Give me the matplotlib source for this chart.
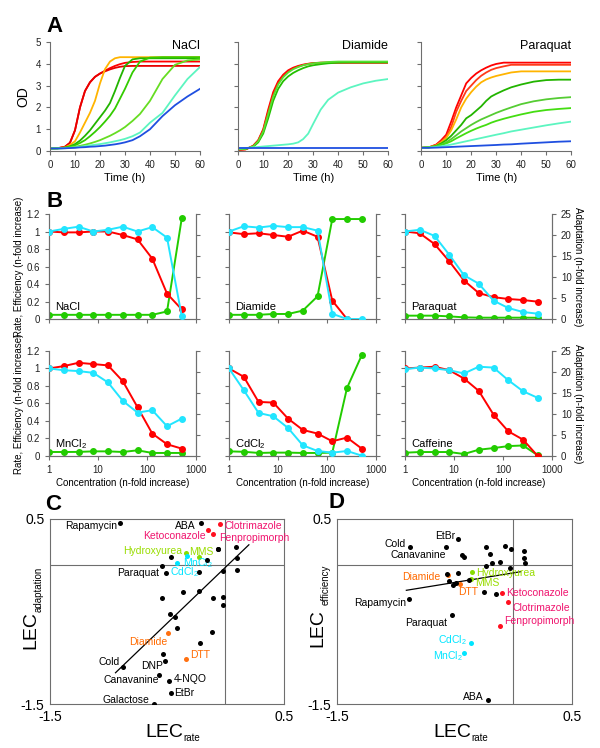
import numpy as np
import matplotlib
matplotlib.use('Agg')
import matplotlib.pyplot as plt

plt.rcParams['font.family'] = ['Liberation Sans', 'DejaVu Sans']
plt.rcParams['mathtext.fontset'] = 'custom'
plt.rcParams['mathtext.rm'] = 'Liberation Sans'
plt.rcParams['mathtext.it'] = 'Liberation Sans:italic'

GREY = '#6e6e6e'
W_PX, H_PX = 600, 748

# ---- Panel A: growth curves (OD over time) ----
time_h = [0, 3, 6, 8, 10, 12, 14, 16, 18, 20, 22, 24, 26, 28, 30, 33, 36, 40, 45, 50, 55, 60]

nacl_od = [
    [0.12, 0.13, 0.2, 0.38, 0.95, 2.0, 2.75, 3.15, 3.4, 3.55, 3.68, 3.8, 3.9, 3.98, 4.04, 4.08, 4.1, 4.1, 4.1, 4.1, 4.1, 4.1],
    [0.12, 0.13, 0.2, 0.38, 0.95, 2.0, 2.75, 3.15, 3.4, 3.55, 3.65, 3.74, 3.81, 3.86, 3.89, 3.9, 3.9, 3.9, 3.9, 3.9, 3.9, 3.9],
    [0.12, 0.13, 0.17, 0.28, 0.45, 0.85, 1.3, 1.75, 2.3, 3.1, 3.75, 4.1, 4.25, 4.3, 4.3, 4.3, 4.3, 4.3, 4.3, 4.3, 4.3, 4.3],
    [0.12, 0.13, 0.16, 0.22, 0.32, 0.48, 0.7, 0.95, 1.25, 1.55, 1.85, 2.2, 2.75, 3.35, 3.9, 4.2, 4.25, 4.25, 4.25, 4.25, 4.25, 4.25],
    [0.12, 0.13, 0.15, 0.2, 0.27, 0.37, 0.5, 0.68, 0.88, 1.1, 1.35, 1.62, 1.95, 2.4, 2.85, 3.6, 4.1, 4.28, 4.3, 4.3, 4.3, 4.3],
    [0.12, 0.12, 0.14, 0.17, 0.2, 0.24, 0.29, 0.35, 0.42, 0.5, 0.6, 0.7, 0.82, 0.95, 1.1, 1.38, 1.7, 2.3, 3.3, 3.95, 4.15, 4.2],
    [0.12, 0.12, 0.13, 0.15, 0.17, 0.2, 0.23, 0.26, 0.29, 0.32, 0.36, 0.4, 0.45, 0.5, 0.56, 0.68, 0.85, 1.3, 1.75, 2.55, 3.3, 3.85],
    [0.12, 0.12, 0.13, 0.14, 0.15, 0.17, 0.18, 0.2, 0.21, 0.23, 0.25, 0.28, 0.31, 0.35, 0.4, 0.5, 0.68, 1.0, 1.6, 2.1, 2.5, 2.85],
]
nacl_colors = ['#ff0000', '#e80000', '#ffb400', '#22b400', '#33cc00', '#66dd22', '#5cf5c0', '#1f4fe0']

diamide_od = [
    [0.05, 0.08, 0.25, 0.5, 1.0, 1.9, 2.7, 3.2, 3.5, 3.7, 3.82, 3.9, 3.96, 4.0, 4.03, 4.05, 4.05, 4.05, 4.05, 4.05, 4.05, 4.05],
    [0.05, 0.08, 0.23, 0.47, 0.95, 1.8, 2.6, 3.12, 3.45, 3.65, 3.78, 3.87, 3.94, 3.99, 4.02, 4.04, 4.05, 4.05, 4.05, 4.05, 4.05, 4.05],
    [0.08, 0.1, 0.2, 0.4, 0.8, 1.5, 2.3, 2.85, 3.2, 3.42, 3.58, 3.7, 3.8, 3.88, 3.93, 3.98, 4.02, 4.05, 4.06, 4.06, 4.06, 4.06],
    [0.08, 0.1, 0.22, 0.45, 0.9, 1.7, 2.5, 3.05, 3.38, 3.6, 3.75, 3.85, 3.93, 3.98, 4.02, 4.05, 4.08, 4.1, 4.1, 4.1, 4.1, 4.1],
    [0.12, 0.14, 0.17, 0.19, 0.21, 0.23, 0.25, 0.27, 0.29, 0.31, 0.34, 0.4, 0.55, 0.8, 1.25, 1.9, 2.35, 2.68, 2.92, 3.1, 3.22, 3.3],
    [0.15, 0.15, 0.15, 0.15, 0.15, 0.15, 0.15, 0.15, 0.15, 0.15, 0.15, 0.15, 0.15, 0.15, 0.15, 0.15, 0.15, 0.15, 0.15, 0.15, 0.15, 0.15],
]
diamide_colors = ['#ff0000', '#ff1a00', '#22c000', '#55e030', '#5cf5c0', '#1f4fe0']

paraquat_od = [
    [0.15, 0.17, 0.3, 0.5, 0.75, 1.35, 2.0, 2.55, 3.1, 3.35, 3.55, 3.7, 3.82, 3.92, 3.99, 4.05, 4.05, 4.05, 4.05, 4.05, 4.05, 4.05],
    [0.15, 0.17, 0.28, 0.45, 0.65, 1.1, 1.8, 2.3, 2.75, 3.0, 3.25, 3.45, 3.6, 3.72, 3.8, 3.88, 3.95, 3.95, 3.95, 3.95, 3.95, 3.95],
    [0.15, 0.17, 0.26, 0.4, 0.6, 0.95, 1.45, 2.0, 2.4, 2.7, 2.95, 3.15, 3.28, 3.37, 3.44, 3.52, 3.6, 3.65, 3.65, 3.65, 3.65, 3.65],
    [0.15, 0.17, 0.24, 0.35, 0.5, 0.7, 0.95, 1.2, 1.5, 1.65, 1.85, 2.05, 2.3, 2.5, 2.62, 2.78, 2.92, 3.05, 3.18, 3.25, 3.27, 3.27],
    [0.15, 0.17, 0.22, 0.3, 0.4, 0.55, 0.72, 0.9, 1.05, 1.2, 1.33, 1.45, 1.55, 1.65, 1.75, 1.88, 2.0, 2.15, 2.28, 2.37, 2.43, 2.47],
    [0.15, 0.17, 0.21, 0.28, 0.35, 0.45, 0.58, 0.7, 0.82, 0.93, 1.03, 1.12, 1.2, 1.3, 1.38, 1.48, 1.57, 1.68, 1.8, 1.88, 1.93, 1.97],
    [0.15, 0.16, 0.19, 0.22, 0.26, 0.3, 0.35, 0.4, 0.45, 0.5, 0.55, 0.6, 0.65, 0.7, 0.75, 0.82, 0.9, 0.98, 1.08, 1.18, 1.27, 1.35],
    [0.15, 0.15, 0.16, 0.17, 0.18, 0.19, 0.2, 0.21, 0.22, 0.23, 0.24, 0.25, 0.26, 0.27, 0.28, 0.3, 0.31, 0.34, 0.37, 0.4, 0.43, 0.45],
]
paraquat_colors = ['#ff0000', '#ff3a1a', '#ffb400', '#22b400', '#55cc33', '#44dd11', '#5cf5c0', '#1f4fe0']

# ---- Panel B: rate / efficiency / adaptation vs concentration ----
conc = [1, 2, 4, 8, 16, 32, 64, 128, 256, 512]

nacl_rate = [1.0, 0.99, 0.99, 1.0, 1.0, 0.96, 0.91, 0.69, 0.29, 0.11]
nacl_eff = [1.0, 1.03, 1.055, 1.0, 1.02, 1.055, 1.0, 1.05, 0.93, 0.03]
nacl_adapt = [1.0, 1.0, 1.0, 1.0, 1.0, 1.0, 1.0, 1.0, 1.8, 24.0]

diamide_rate = [0.99, 0.97, 0.98, 0.96, 0.94, 1.01, 0.94, 0.21, 0.0, np.nan]
diamide_eff = [1.0, 1.06, 1.045, 1.065, 1.05, 1.05, 1.01, 0.06, 0.0, 0.0]
diamide_adapt = [1.0, 1.0, 1.0, 1.2, 1.2, 2.0, 5.4, 23.8, 23.8, 23.8]

paraquat_rate = [1.0, 0.98, 0.857, 0.66, 0.44, 0.297, 0.25, 0.229, 0.217, 0.198]
paraquat_eff = [1.0, 1.02, 0.95, 0.735, 0.5, 0.404, 0.21, 0.126, 0.08, 0.061]
paraquat_adapt = [0.8, 0.8, 0.8, 0.63, 0.4, 0.32, 0.32, 0.32, 0.32, 0.3]

mncl2_rate = [1.0, 1.027, 1.065, 1.05, 1.035, 0.855, 0.557, 0.256, 0.134, 0.084]
mncl2_eff = [1.0, 0.98, 0.97, 0.95, 0.84, 0.63, 0.496, 0.523, 0.34, 0.427]
mncl2_adapt = [0.95, 0.95, 0.97, 1.1, 1.1, 0.95, 1.35, 0.72, 0.72, 0.72]

cdcl2_rate = [1.0, 0.905, 0.618, 0.61, 0.427, 0.298, 0.256, 0.168, 0.21, 0.084]
cdcl2_eff = [1.0, 0.752, 0.492, 0.454, 0.32, 0.122, 0.057, 0.038, 0.057, 0.004]
cdcl2_adapt = [1.1, 1.0, 0.72, 0.8, 0.8, 0.72, 0.72, 0.8, 16.2, 24.0]

caffeine_rate = [1.0, 1.01, 1.02, 0.98, 0.885, 0.744, 0.473, 0.282, 0.187, 0.0]
caffeine_eff = [0.992, 1.01, 1.0, 0.98, 0.943, 1.02, 1.01, 0.866, 0.74, 0.664]
caffeine_adapt = [0.78, 0.94, 0.94, 0.94, 0.47, 1.49, 1.88, 2.35, 2.5, 0.16]

# ---- Panel C: LEC rate vs LEC adaptation ----
c_names = ['Rapamycin', 'ABA', 'Clotrimazole', 'Ketoconazole', 'Fenpropimorph',
           'Hydroxyurea', 'MMS', 'MnCl$_2$', 'CdCl$_2$', 'Paraquat', 'Diamide', 'DTT',
           'Cold', 'DNP', 'Canavanine', '4-NQO', 'EtBr', 'Galactose',
           '', '', '', '', '', '', '', '', '', '', '', '', '', '', '', '', '', '', '', '', '', '']
c_group = ['k', 'k', 'r', 'r', 'r', 'g', 'g', 'c', 'c', 'k', 'o', 'o',
           'k', 'k', 'k', 'k', 'k', 'k',
           'k', 'k', 'k', 'k', 'k', 'k', 'k', 'k', 'k', 'k', 'k', 'k', 'k', 'k', 'k', 'k', 'k', 'k', 'k', 'k', 'k', 'k']
c_rate = [-0.90, -0.21, -0.044, -0.152, -0.104, -0.34, -0.227, -0.412, -0.332, -0.511, -0.494, -0.335,
          -0.873, -0.517, -0.568, -0.483, -0.466, -0.614,
          -0.537, -0.218, -0.113, -0.412, -0.429, -0.474, -0.543, -0.36, -0.227, -0.104, -0.019, -0.019,
          -0.019, 0.095, 0.095, 0.087, -0.067, -0.543, -0.466, -0.227, -0.161, -0.067]
c_adapt = [0.449, 0.449, 0.442, 0.377, 0.334, 0.126, 0.083, 0.025, 0.1, -0.09, -0.736, -1.012,
           -1.094, -1.03, -1.184, -1.249, -1.374, -1.5,
           -0.958, -0.843, -0.725, -0.682, -0.563, -0.531, -0.359, -0.287, -0.276, -0.359, -0.348, -0.434,
           -0.061, -0.054, 0.072, 0.19, 0.169, -0.011, 0.09, -0.079, 0.054, 0.169]
c_fit = [1.21, -0.023]   # slope, intercept of the regression line
c_fit_range = [-0.94, 0.2]

# ---- Panel D: LEC rate vs LEC efficiency ----
d_names = ['Cold', 'EtBr', 'Canavanine', 'Diamide', 'DTT', 'Hydroxyurea', 'MMS', 'Rapamycin',
           'Ketoconazole', 'Clotrimazole', 'Fenpropimorph', 'Paraquat', 'CdCl$_2$', 'MnCl$_2$', 'ABA',
           '', '', '', '', '', '', '', '', '', '', '', '', '', '', '', '', '', '', '', '', '']
d_group = ['k', 'k', 'k', 'o', 'o', 'g', 'g', 'k', 'r', 'r', 'r', 'k', 'c', 'c', 'k',
           'k', 'k', 'k', 'k', 'k', 'k', 'k', 'k', 'k', 'k', 'k', 'k', 'k', 'k', 'k', 'k', 'k', 'k', 'k', 'k', 'k']
d_rate = [-0.88, -0.47, -0.573, -0.553, -0.453, -0.348, -0.362, -0.888, -0.1, -0.043, -0.109, -0.521,
          -0.356, -0.416, -0.217,
          -0.439, -0.419, -0.231, -0.069, -0.021, -0.194, 0.093, 0.087, 0.096, -0.183, -0.109, -0.231,
          -0.026, -0.567, -0.467, -0.544, -0.516, -0.487, -0.373, -0.245, -0.149, -0.618]
d_eff = [0.19, 0.28, 0.19, -0.108, -0.199, -0.072, -0.152, -0.369, -0.3, -0.398, -0.661, -0.542,
         -0.842, -0.95, -1.456,
         0.108, 0.09, 0.19, 0.206, 0.173, 0.119, 0.152, 0.072, 0.025, 0.025, 0.033, -0.011,
         -0.036, -0.098, -0.09, -0.173, -0.217, -0.192, -0.163, -0.289, -0.314, -0.325]
d_fit = [0.206, -0.084]
d_fit_range = [-0.91, 0.06]

dot_colors = {'k': '#000000', 'r': '#ff1020', 'g': '#88dd00', 'c': '#00e5ff', 'o': '#ff7010'}
text_colors = {'k': '#000000', 'r': '#f0146e', 'g': '#99dd00', 'c': '#00e5ff', 'o': '#ff6a00'}

# label placement (offset in points, horizontal alignment)
c_offsets = {
    'Rapamycin': (-2, -1.5, 'right'), 'ABA': (-4, -1.5, 'right'), 'Clotrimazole': (3, -1.5, 'left'),
    'Ketoconazole': (-1.5, -4, 'right'), 'Fenpropimorph': (4, -2.5, 'left'),
    'Hydroxyurea': (-2.5, 2, 'right'), 'MMS': (-7, 4, 'left'), 'MnCl$_2$': (4, -0.5, 'left'),
    'CdCl$_2$': (-12, -12, 'left'), 'Paraquat': (-5, 0, 'right'), 'Diamide': (0, -6, 'right'),
    'DTT': (3, 3, 'left'), 'Cold': (-2.5, 3.3, 'right'), 'DNP': (-1.7, -4, 'right'),
    'Canavanine': (0, -4, 'right'), '4-NQO': (3.6, 1.4, 'left'), 'EtBr': (2.6, -0.5, 'left'),
    'Galactose': (-3, 3, 'right'),
}
d_offsets = {
    'Cold': (-3, 2.4, 'right'), 'EtBr': (-2, 2.4, 'right'), 'Canavanine': (0, -5.5, 'right'),
    'Diamide': (-6, -1.2, 'right'), 'DTT': (-1.7, -6, 'left'), 'Hydroxyurea': (3, -1.2, 'left'),
    'MMS': (3, -2.6, 'left'), 'Rapamycin': (-2, -2.4, 'right'), 'Ketoconazole': (3, 0, 'left'),
    'Clotrimazole': (3, -4, 'left'), 'Fenpropimorph': (2.4, 3.8, 'left'), 'Paraquat': (-3.8, -5.3, 'right'),
    'CdCl$_2$': (-3.4, 1.9, 'right'), 'MnCl$_2$': (-1.4, -2.4, 'right'), 'ABA': (-3, 2.6, 'right'),
}


def px(x, y):
    """Pixel position (from top-left) to figure fraction."""
    return x / W_PX, 1 - y / H_PX


def style_spines(ax, sides):
    for side in ['left', 'right', 'top', 'bottom']:
        ax.spines[side].set_visible(side in sides)
        ax.spines[side].set_color(GREY)
    ax.tick_params(colors=GREY, labelcolor='#222222', labelsize=7, length=3, width=0.8)


def draw_growth(fig, rect, curves, colors, title, first):
    ax = fig.add_axes(rect)
    for od, col in zip(curves, colors):
        ax.plot(time_h, od, color=col, lw=1.3)
    ax.set_xlim(0, 60)
    ax.set_ylim(0, 5)
    ax.set_xticks(range(0, 61, 10))
    ax.set_yticks(range(0, 6))
    style_spines(ax, ['left', 'bottom'])
    if first:
        ax.set_ylabel('OD', fontsize=10, labelpad=4)
    else:
        ax.set_yticklabels([])
    ax.set_xlabel('Time (h)', fontsize=8, labelpad=2)
    ax.text(1.0, 0.965, title, transform=ax.transAxes, ha='right', va='center', fontsize=9)
    return ax


def draw_dose(fig, rect, rate, eff, adapt, name, left_label, right_label, bottom):
    ax = fig.add_axes(rect)
    ax2 = ax.twinx()
    ax2.plot(conc, adapt, color='#22cc00', lw=1.4, marker='o', ms=4, zorder=2)
    ax.plot(conc, rate, color='#ff0000', lw=1.4, marker='o', ms=4, zorder=3)
    ax.plot(conc, eff, color='#22e5ff', lw=1.4, marker='o', ms=4, zorder=3)
    ax.set_xscale('log')
    ax.set_xlim(1, 1000)
    ax.set_ylim(0, 1.2)
    ax2.set_ylim(0, 25)
    ax.set_yticks([0, 0.2, 0.4, 0.6, 0.8, 1.0, 1.2])
    ax.set_yticklabels(['0', '0.2', '0.4', '0.6', '0.8', '1', '1.2'])
    ax2.set_yticks(range(0, 26, 5))
    ax.set_xticks([1, 10, 100, 1000])
    ax.xaxis.set_minor_locator(plt.NullLocator())
    style_spines(ax, ['left', 'bottom', 'right'])
    style_spines(ax2, ['left', 'bottom', 'right'])
    ax2.set_zorder(ax.get_zorder() - 1)
    ax.patch.set_visible(False)
    if bottom:
        ax.set_xticklabels(['1', '10', '100', '1000'])
        ax.set_xlabel('Concentration (n-fold increase)', fontsize=7, labelpad=2)
    else:
        ax.set_xticklabels([])
    if left_label:
        ax.set_ylabel('Rate, Efficiency (n-fold increase)', fontsize=7, labelpad=2)
    else:
        ax.set_yticklabels([])
    if right_label:
        ax2.set_ylabel('Adaptation (n-fold increase)', fontsize=7, rotation=270, labelpad=8)
    else:
        ax2.set_yticklabels([])
    ax.text(0.04, 0.11, name, transform=ax.transAxes, ha='left', va='center', fontsize=8)


def lec_labels(fig, xlab, ylab_main, ylab_sub, ysub):
    # "LEC" with a small subscript, placed by hand like the original figure
    fig.text(*px(*xlab), 'LEC', ha='left', va='baseline', fontsize=14)
    fig.text(*px(xlab[0] + 38, xlab[1] + 4), 'rate', ha='left', va='baseline', fontsize=7)
    fig.text(*px(*ylab_main), 'LEC', rotation=90, ha='center', va='center', fontsize=14)
    fig.text(*px(*ylab_sub), ysub, rotation=90, ha='center', va='center', fontsize=7)


def draw_lec(fig, rect, xs, ys, names, groups, offsets, fit, fit_range):
    ax = fig.add_axes(rect)
    ax.axhline(0, color=GREY, lw=0.8, zorder=1)
    ax.axvline(0, color=GREY, lw=0.8, zorder=1)
    fx = np.array(fit_range)
    ax.plot(fx, fit[0] * fx + fit[1], color='black', lw=0.9, zorder=2)
    for x, y, n, g in zip(xs, ys, names, groups):
        ax.scatter([x], [y], s=13, color=dot_colors[g], zorder=3, linewidths=0)
        if n:
            dx, dy, ha = offsets[n]
            ax.annotate(n, (x, y), xytext=(dx, dy), textcoords='offset points',
                        ha=ha, va='center', fontsize=7.5, color=text_colors[g])
    ax.set_xlim(-1.5, 0.5)
    ax.set_ylim(-1.5, 0.5)
    ax.set_xticks([-1.5, 0.5])
    ax.set_yticks([-1.5, 0.5])
    ax.set_xticklabels(['-1.5', '0.5'])
    ax.set_yticklabels(['-1.5', '0.5'])
    for side in ax.spines:
        ax.spines[side].set_color(GREY)
        ax.spines[side].set_linewidth(0.8)
    ax.tick_params(length=0, labelsize=10, pad=4)
    return ax


def main():
    fig = plt.figure(figsize=(6, 7.48), dpi=100)

    draw_growth(fig, [0.0833, 0.798, 0.25, 0.146], nacl_od, nacl_colors, 'NaCl', True)
    draw_growth(fig, [0.397, 0.798, 0.25, 0.146], diamide_od, diamide_colors, 'Diamide', False)
    draw_growth(fig, [0.702, 0.798, 0.25, 0.146], paraquat_od, paraquat_colors, 'Paraquat', False)

    lefts = [0.0817, 0.3817, 0.675]
    w = 0.245
    top_b, bot_b, h = 0.5735, 0.3904, 0.1404
    draw_dose(fig, [lefts[0], top_b, w, h], nacl_rate, nacl_eff, nacl_adapt, 'NaCl', True, False, False)
    draw_dose(fig, [lefts[1], top_b, w, h], diamide_rate, diamide_eff, diamide_adapt, 'Diamide', False, False, False)
    draw_dose(fig, [lefts[2], top_b, w, h], paraquat_rate, paraquat_eff, paraquat_adapt, 'Paraquat', False, True, False)
    draw_dose(fig, [lefts[0], bot_b, w, h], mncl2_rate, mncl2_eff, mncl2_adapt, 'MnCl$_2$', True, False, True)
    draw_dose(fig, [lefts[1], bot_b, w, h], cdcl2_rate, cdcl2_eff, cdcl2_adapt, 'CdCl$_2$', False, False, True)
    draw_dose(fig, [lefts[2], bot_b, w, h], caffeine_rate, caffeine_eff, caffeine_adapt, 'Caffeine', False, True, True)

    draw_lec(fig, [0.0833, 0.0585, 0.39, 0.248], c_rate, c_adapt, c_names, c_group,
             c_offsets, c_fit, c_fit_range)
    draw_lec(fig, [0.5617, 0.0585, 0.3917, 0.248], d_rate, d_eff, d_names, d_group,
             d_offsets, d_fit, d_fit_range)
    lec_labels(fig, (145, 737), (31, 630), (38.5, 589), 'adaptation')
    lec_labels(fig, (433, 737), (318, 628), (326, 585), 'efficiency')

    for letter, x, y in [('A', 0.077, 0.964), ('B', 0.077, 0.7306), ('C', 0.075, 0.326), ('D', 0.547, 0.328)]:
        fig.text(x, y, letter, fontsize=16, fontweight='bold', ha='left', va='center')

    fig.savefig('out.png', dpi=100)
    plt.close(fig)


if __name__ == '__main__':
    main()
